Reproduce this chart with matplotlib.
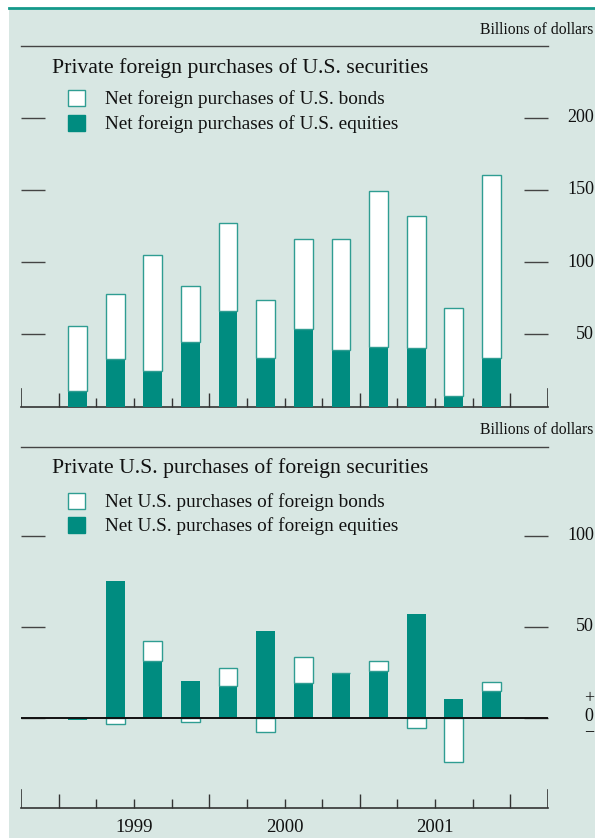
import matplotlib
matplotlib.use('Agg')
import matplotlib.pyplot as plt
import numpy as np
from matplotlib.patches import Rectangle
from matplotlib.lines import Line2D
from matplotlib.transforms import blended_transform_factory

# ---------------- data ----------------
quarters = ['1999Q1', '1999Q2', '1999Q3', '1999Q4',
            '2000Q1', '2000Q2', '2000Q3', '2000Q4',
            '2001Q1', '2001Q2', '2001Q3', '2001Q4']
years = ['1999', '2000', '2001']

top_equities = [10.9, 33.2, 24.9, 44.8, 66.0, 33.7, 54.0, 39.4, 41.3, 40.8, 7.6, 33.7]
top_bonds = [45.1, 45.0, 79.9, 38.7, 60.9, 39.9, 61.8, 76.9, 108.2, 91.0, 60.5, 126.6]

bot_equities = [-1.3, 75.2, 31.2, 20.3, 17.5, 47.3, 18.8, 24.6, 25.3, 56.9, 10.3, 14.3]
bot_bonds = [0.0, -3.7, 10.9, -2.2, 9.8, -7.9, 14.2, 0.0, 6.0, -5.5, -24.6, 5.3]

top_title = 'Private foreign purchases of U.S. securities'
top_labels = ['Net foreign purchases of U.S. bonds', 'Net foreign purchases of U.S. equities']
bot_title = 'Private U.S. purchases of foreign securities'
bot_labels = ['Net U.S. purchases of foreign bonds', 'Net U.S. purchases of foreign equities']
top_yticks = [50, 100, 150, 200]
bot_yticks = [0, 50, 100]
units = 'Billions of dollars'

# ---------------- style ----------------
W, H = 595, 838
TEAL = '#008c80'
EDGE = '#2f9d92'
BG = '#d8e7e3'
TXT = '#111111'
AXC = '#333333'
SERIF = ['Liberation Serif', 'DejaVu Serif']
plt.rcParams['font.family'] = SERIF

fig = plt.figure(figsize=(W / 100, H / 100), dpi=100)
fig.patch.set_facecolor('white')

def fx(px):
    return px / W

def fy(py):
    return 1 - py / H

# background panel and top rule
fig.patches.append(Rectangle((fx(9), 0), 1 - fx(9), fy(9.3), transform=fig.transFigure,
                             facecolor=BG, edgecolor='none', zorder=-5))
fig.lines.append(Line2D([fx(9), 1], [fy(8), fy(8)], transform=fig.transFigure,
                        color='#14998b', lw=2.0, zorder=-4))

PX = 0.72  # points per pixel


def make_panel(top_px, bot_px, zero_px, px_per_unit, eq, bd, yticks, skip_zero):
    ax = fig.add_axes([fx(21), fy(bot_px), fx(548) - fx(21), (bot_px - top_px) / H])
    ax.set_facecolor('none')
    ymin = -(bot_px - zero_px) / px_per_unit
    ymax = (zero_px - top_px) / px_per_unit
    ax.set_xlim(0, 14)
    ax.set_ylim(ymin, ymax)
    for s in ['left', 'right']:
        ax.spines[s].set_visible(False)
    ax.spines['top'].set_color('#444444')
    ax.spines['top'].set_linewidth(1.0)
    ax.spines['bottom'].set_color(AXC)
    ax.spines['bottom'].set_linewidth(1.2)

    x = np.arange(len(quarters)) + 1.5
    eq = np.array(eq)
    bd = np.array(bd)
    pos = np.zeros_like(eq)
    neg = np.zeros_like(eq)
    eq_bottom = np.where(eq >= 0, pos, neg)
    pos = pos + np.where(eq >= 0, eq, 0)
    neg = neg + np.where(eq < 0, eq, 0)
    bd_bottom = np.where(bd >= 0, pos, neg)
    ax.bar(x, eq, 0.5, bottom=eq_bottom, color=TEAL, edgecolor='none', zorder=3)
    ax.bar(x, bd, 0.5, bottom=bd_bottom, color='white', edgecolor=EDGE, linewidth=1.0, zorder=3)

    # x ticks: quarters (short), year boundaries (medium), ends (tall)
    ax.set_xticks([1, 5, 9, 13])
    ax.set_xticks([q for q in range(2, 13) if q not in (5, 9)], minor=True)
    ax.tick_params(axis='x', which='major', direction='in', length=14 * PX, width=1.0,
                   color=AXC, labelbottom=False, top=False)
    ax.tick_params(axis='x', which='minor', direction='in', length=9 * PX, width=1.0,
                   color=AXC, labelbottom=False, top=False)
    frac = 18 / (bot_px - top_px)
    ax.axvline(0, 0, frac, color=AXC, lw=1.2, zorder=4)
    ax.axvline(14, 0, frac, color=AXC, lw=1.2, zorder=4)

    # y ticks left and right (inward horizontal dashes), labels at the right edge
    ax.set_yticks(yticks)
    ax.tick_params(axis='y', which='both', direction='in', length=24 * PX, width=1.0,
                   color='#444444', left=True, right=True, labelleft=False, labelright=False)
    tr = blended_transform_factory(fig.transFigure, ax.transData)
    for v in yticks:
        if skip_zero and v == 0:
            continue
        ax.text(fx(594), v, str(v), transform=tr, ha='right', va='center',
                fontsize=13, color=TXT)
    return ax


# top panel
ax1 = make_panel(46, 406.7, 406.7, 1.445, top_equities, top_bonds, top_yticks, False)
# bottom panel
ax2 = make_panel(446.7, 807.7, 717.5, 1.82, bot_equities, bot_bonds, bot_yticks, True)
ax2.axhline(0, color='#111111', lw=1.4, zorder=4)

# +0- label
fig.text(fx(589), fy(698.5), '+', ha='center', va='center', fontsize=13, color=TXT)
fig.text(fx(589), fy(716.5), '0', ha='center', va='center', fontsize=13, color=TXT)
fig.text(fx(589), fy(731.5), '\u2212', ha='center', va='center', fontsize=13, color=TXT)

# year labels
trans = blended_transform_factory(ax2.transData, fig.transFigure)
for i, yr in enumerate(years):
    ax2.text(3 + 4 * i, fy(831.5), yr, transform=trans, ha='center', va='baseline',
             fontsize=13.5, color=TXT)

# units
fig.text(fx(593), fy(33.7), units, ha='right', va='baseline', fontsize=11.3, color=TXT)
fig.text(fx(593), fy(434.3), units, ha='right', va='baseline', fontsize=11.3, color=TXT)

# titles
fig.text(fx(52), fy(72.7), top_title, ha='left', va='baseline', fontsize=15.7, color=TXT)
fig.text(fx(52), fy(473.3), bot_title, ha='left', va='baseline', fontsize=15.7, color=TXT)

# legends
def legend(y1, y2, labels):
    for (y, lab, fc, ec) in [(y1, labels[0], 'white', EDGE), (y2, labels[1], TEAL, TEAL)]:
        fig.patches.append(Rectangle((fx(68), fy(y + 2)), fx(85) - fx(68), 16 / H,
                                     transform=fig.transFigure, facecolor=fc,
                                     edgecolor=ec, lw=1.0, zorder=5))
        fig.text(fx(105), fy(y), lab, ha='left', va='baseline', fontsize=13.85, color=TXT)

legend(104.3, 129.3, top_labels)
legend(506.7, 531, bot_labels)

fig.savefig('out.png', dpi=100, facecolor=fig.get_facecolor())
